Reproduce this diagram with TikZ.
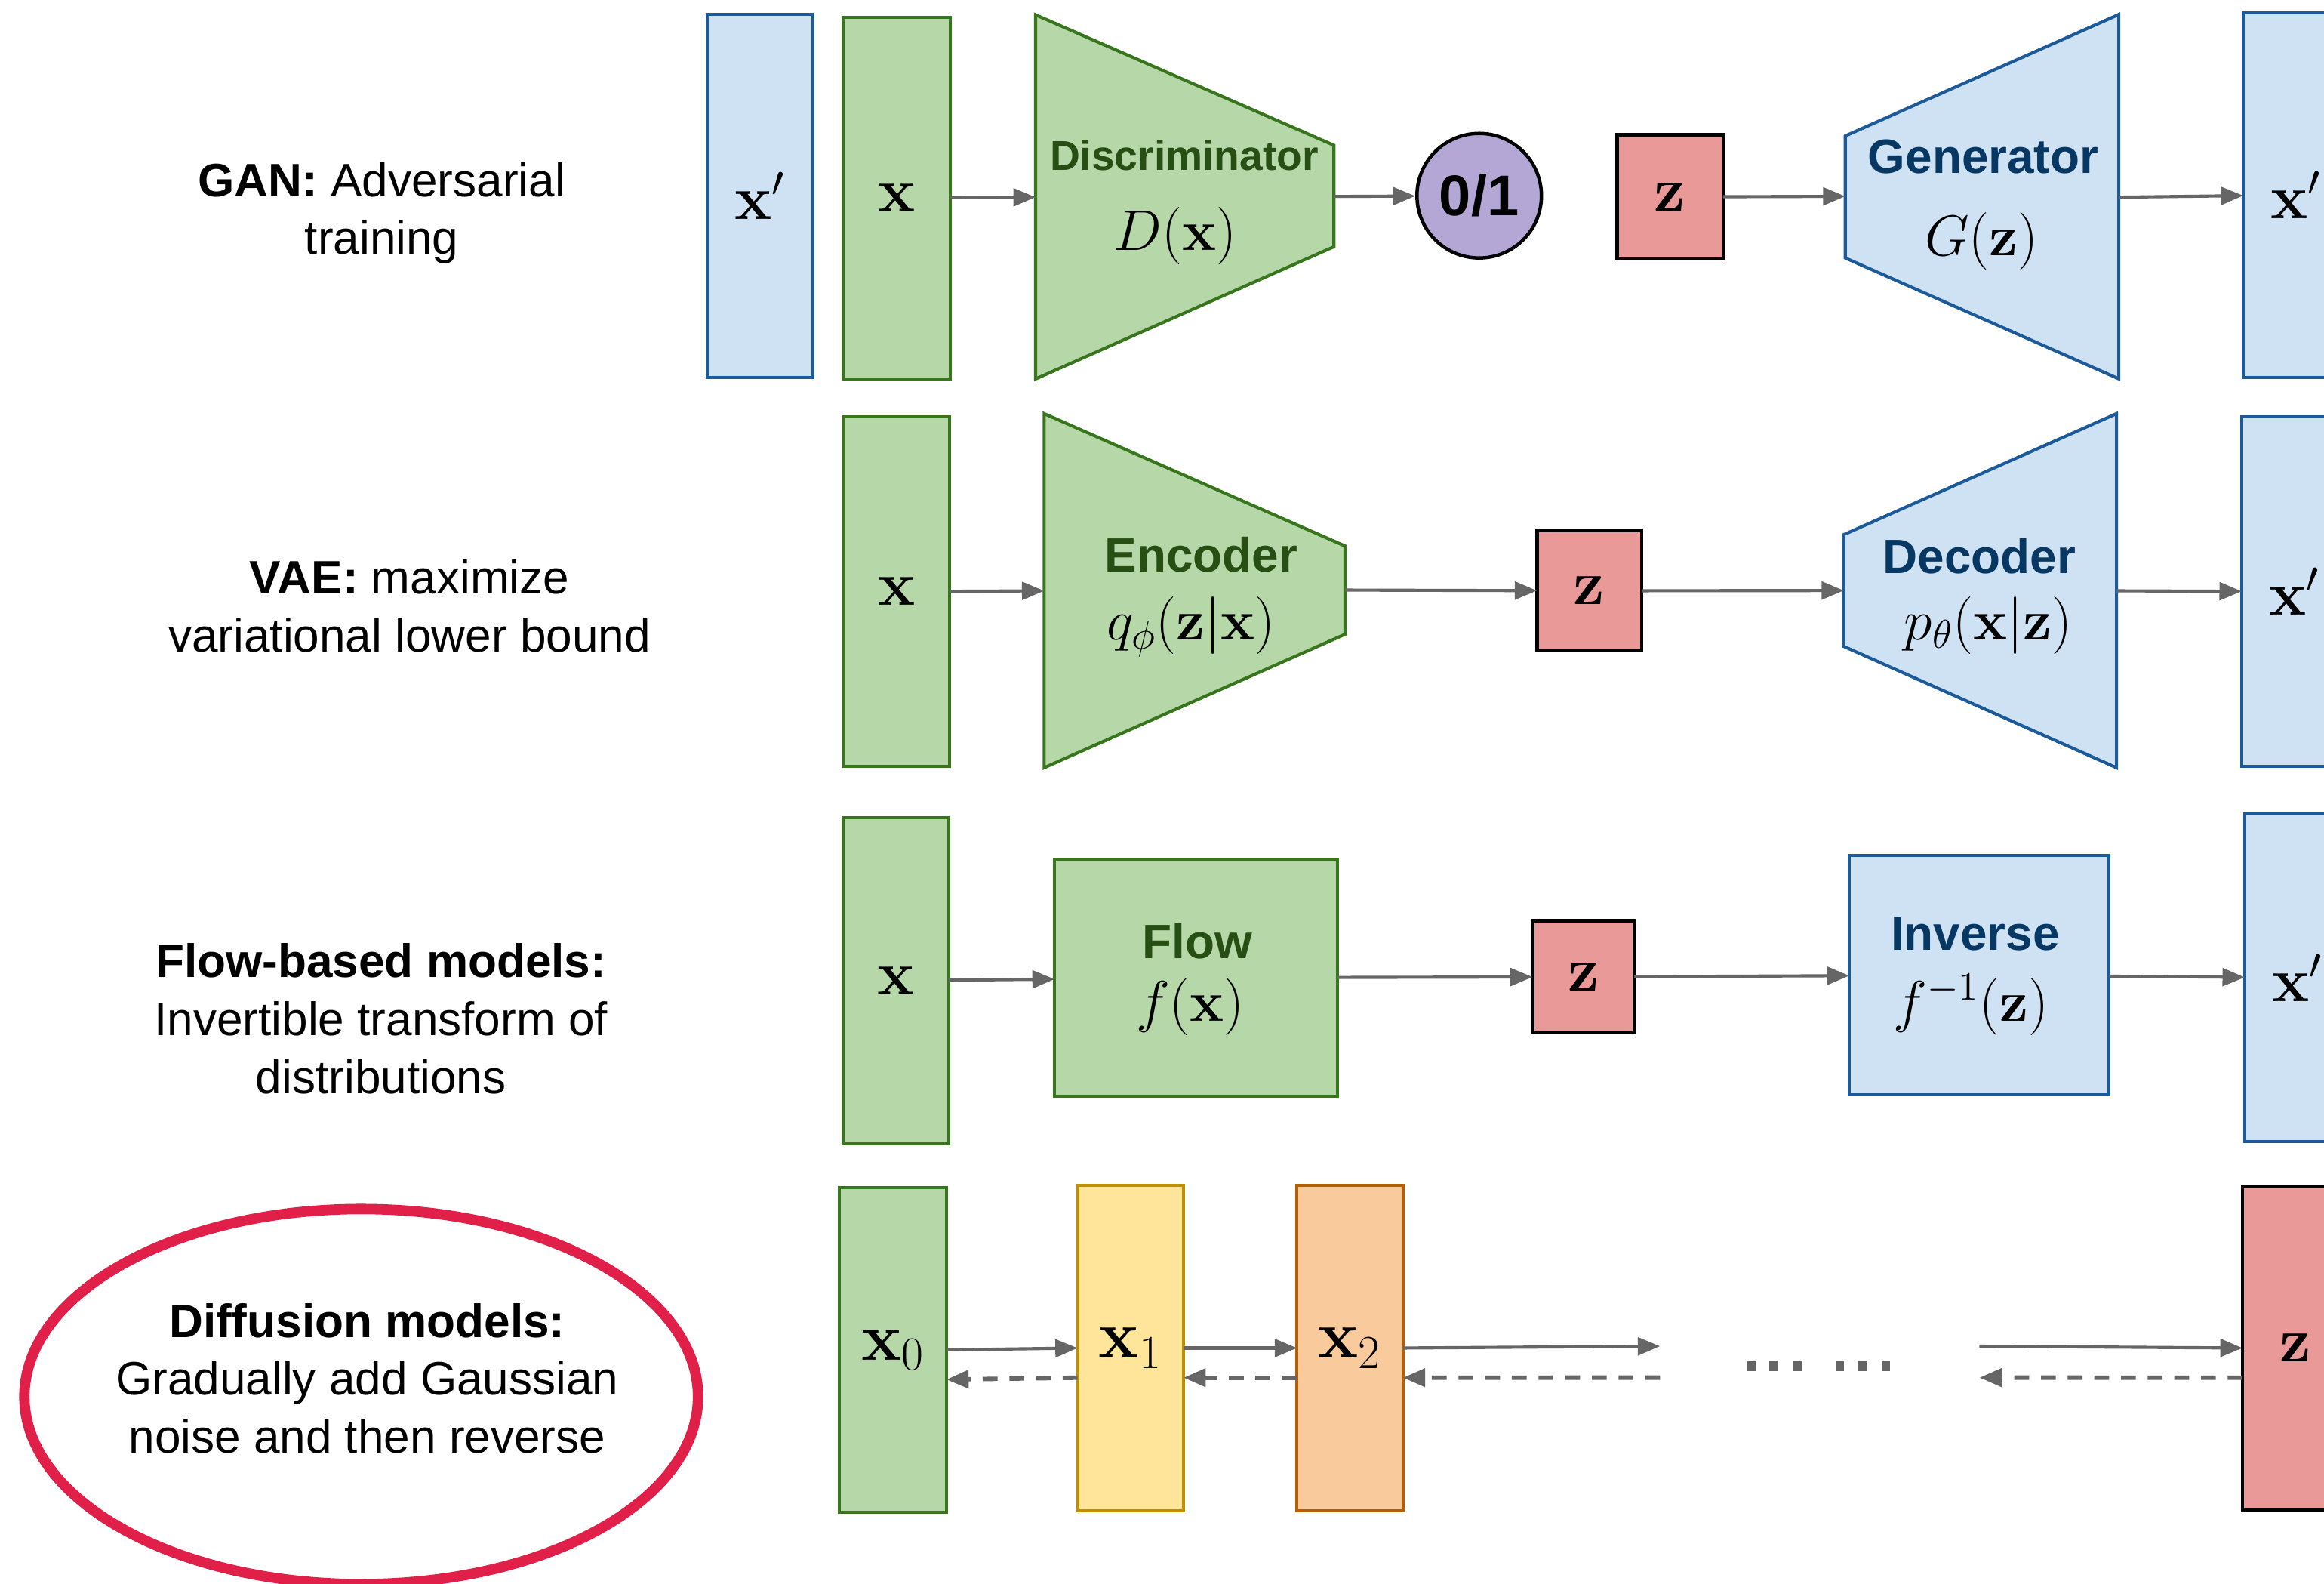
\RequirePackage{fix-cm}
\documentclass[tikz,border=0pt]{standalone}
\usepackage[no-math]{fontspec}
\setmainfont{Liberation Sans}
\usetikzlibrary{arrows.meta,shapes.geometric}

\definecolor{gfill}{HTML}{B6D7A8}
\definecolor{gline}{HTML}{38761D}
\definecolor{gtext}{HTML}{274E13}
\definecolor{bfill}{HTML}{CFE2F3}
\definecolor{bline}{HTML}{1C5A99}
\definecolor{btext}{HTML}{073763}
\definecolor{rfill}{HTML}{EA9999}
\definecolor{pfill}{HTML}{B4A7D6}
\definecolor{yfill}{HTML}{FFE599}
\definecolor{yline}{HTML}{BF9000}
\definecolor{ofill}{HTML}{F9CB9C}
\definecolor{oline}{HTML}{B45F06}
\definecolor{arrgray}{HTML}{666666}
\definecolor{ringred}{HTML}{E02048}

\newcommand{\px}{0.02cm}

\tikzset{
  sz/.style 2 args={minimum width=#1*\px, minimum height=#2*\px},
  blk/.style={inner sep=0pt, outer sep=0pt, line width=1.2pt, font=\fontsize{24}{28}\selectfont},
  gbox/.style={blk, draw=gline, fill=gfill},
  bbox/.style={blk, draw=bline, fill=bfill},
  rbox/.style={blk, draw=black, fill=rfill, line width=1.3pt},
  ybox/.style={blk, draw=yline, fill=yfill},
  obox/.style={blk, draw=oline, fill=ofill},
  bigsub/.style={font=\fontsize{26}{30}\selectfont},
  gshape/.style={draw=gline, fill=gfill, line width=1.2pt},
  bshape/.style={draw=bline, fill=bfill, line width=1.2pt},
  gtitle/.style={anchor=base, inner sep=0pt, text=gtext, font=\fontsize{18.5}{22}\selectfont\bfseries},
  btitle/.style={anchor=base, inner sep=0pt, text=btext, font=\fontsize{18.5}{22}\selectfont\bfseries},
  formula/.style={anchor=base, inner sep=0pt, font=\fontsize{22}{26}\selectfont},
  % multi-line captions: the base anchor sits on the last line
  sidetext/.style={anchor=base, align=center, inner sep=0pt, font=\fontsize{18}{22.2}\selectfont},
  arr/.style={draw=arrgray, line width=1.2pt, -{Triangle[length=0.3cm, width=0.24cm]}},
  darr/.style={arr, line width=1.7pt, dash pattern=on 0.2cm off 0.16cm},
}

\begin{document}
\begin{tikzpicture}[x=\px, y=-\px]
\useasboundingbox (0,0) rectangle (1568,1068);
\fill[white] (0,0) rectangle (1568,1068);
\clip (0,0) rectangle (1568,1068);

% ---------------- GAN ----------------
\node[sidetext] (gantxt) at (257.5,171.5) {\textbf{GAN:} Adversarial\\training};
\node[bbox, sz={71.5}{245}] (ganxp) at (512.75,132.2) {$\mathbf{x}'$};
\node[gbox, sz={72}{244}] (ganx) at (605,133.5) {$\mathbf{x}$};
\draw[gshape] (698.7,10) -- (900,98) -- (900,166.4) -- (698.7,255.6) -- cycle;
\coordinate (discW) at (698.7,133);
\coordinate (discE) at (900,132.5);
\node[gtitle, font=\fontsize{16}{19}\selectfont\bfseries] (disctitle) at (799,114.6) {Discriminator};
\node[formula] (discfn) at (793,168.7) {$D(\mathbf{x})$};
\node[circle, draw=black, fill=pfill, minimum size=84*\px, inner sep=0pt, line width=1.3pt,
      font=\fontsize{22}{26}\selectfont\bfseries] (out) at (998,132) {0/1};
\node[rbox, sz={71.5}{84}] (ganz) at (1126.8,132.8) {$\mathbf{z}$};
\draw[bshape] (1245,91.7) -- (1429.5,9.8) -- (1429.5,255.5) -- (1245,174) -- cycle;
\coordinate (genW) at (1245,132.4);
\coordinate (genE) at (1429.5,133);
\node[btitle] (gentitle) at (1338,117) {Generator};
\node[formula] (genfn) at (1337,172.2) {$G(\mathbf{z})$};
\node[bbox, sz={71.5}{246}] (ganxr) at (1549.25,131.5) {$\mathbf{x}'$};

\draw[arr] (ganx) -- (discW);
\draw[arr] (discE) -- (out);
\draw[arr] (ganz) -- (genW);
\draw[arr] (genE) -- (ganxr);

% ---------------- VAE ----------------
\node[sidetext] (vaetxt) at (276.3,439.6) {\textbf{VAE:} maximize\\variational lower bound};
\node[gbox, sz={71}{236}] (vaex) at (605,399) {$\mathbf{x}$};
\draw[gshape] (704.5,279) -- (907.5,368.3) -- (907.5,427.8) -- (704.5,517.8) -- cycle;
\coordinate (encW) at (704.5,398.5);
\coordinate (encE) at (907.5,398);
\node[gtitle] (enctitle) at (810.5,386) {Encoder};
\node[formula] (encfn) at (803.5,431.7) {$q_\phi(\mathbf{z}|\mathbf{x})$};
\node[rbox, sz={70.6}{81}] (vaez) at (1072.3,398.5) {$\mathbf{z}$};
\draw[bshape] (1244,360.6) -- (1428,279) -- (1428,517.8) -- (1244,436) -- cycle;
\coordinate (decW) at (1244,398.3);
\coordinate (decE) at (1428,398.5);
\node[btitle] (dectitle) at (1335.5,387) {Decoder};
\node[formula] (decfn) at (1341.5,431.5) {$p_\theta(\mathbf{x}|\mathbf{z})$};
\node[bbox, sz={71.5}{236}] (vaexr) at (1548.2,399) {$\mathbf{x}'$};

\draw[arr] (vaex) -- (encW);
\draw[arr] (encE) -- (vaez);
\draw[arr] (vaez) -- (decW);
\draw[arr] (decE) -- (vaexr);

% ---------------- Flow ----------------
\node[sidetext] (flowtxt) at (257,737.4) {\textbf{Flow-based models:}\\Invertible transform of\\distributions};
\node[gbox, sz={71}{220}] (flowx) at (604.5,661.5) {$\mathbf{x}$};
\node[gbox, sz={191}{159.6}] (flow) at (807,659.5) {};
\node[gtitle] (flowtitle) at (808,646.7) {Flow};
\node[formula] (flowfn) at (803,688.7) {$f(\mathbf{x})$};
\node[rbox, sz={68.6}{75.7}] (flowz) at (1068.3,658.9) {$\mathbf{z}$};
\node[bbox, sz={175.3}{161.4}] (inv) at (1335.4,657.7) {};
\node[btitle] (invtitle) at (1332.7,640.7) {Inverse};
\node[formula] (invfn) at (1330,688.7) {$f^{-1}(\mathbf{z})$};
\node[bbox, sz={71.5}{221}] (flowxr) at (1550.25,659.5) {$\mathbf{x}'$};

\draw[arr] (flowx) -- (flow);
\draw[arr] (flow) -- (flowz);
\draw[arr] (flowz) -- (inv);
\draw[arr] (inv) -- (flowxr);

% ---------------- Diffusion ----------------
\node[ellipse, draw=ringred, line width=4pt, inner sep=0pt,
      minimum width=454.5*\px, minimum height=253*\px] (ring) at (243.7,942) {};
\node[sidetext] (difftxt) at (247.7,980) {\textbf{Diffusion models:}\\Gradually add Gaussian\\noise and then reverse};

\node[gbox, bigsub, sz={72}{219}] (x0) at (602.5,910.5) {$\mathbf{x}_0$};
\node[ybox, bigsub, sz={71.5}{219.5}] (x1) at (762.75,909.25) {$\mathbf{x}_1$};
\node[obox, bigsub, sz={71.5}{219.5}] (x2) at (910.8,909.25) {$\mathbf{x}_2$};
\node[rbox, sz={71.5}{218.5}] (dz) at (1548.75,909.25) {$\mathbf{z}$};

\coordinate (fwdend) at (1120,908);
\coordinate (fwdstart) at (1335.5,908);
\coordinate (bwdstart) at (1120,929.2);
\coordinate (bwdend) at (1335.5,929.2);

\draw[arr] (x0.east) -- (x1.west);
\draw[arr] (x1.east) -- (x2.west);
\draw[arr] (x2.east) -- (fwdend);
\draw[arr] (fwdstart) -- (dz.west);

\draw[darr] ([yshift=-0.4cm]x1.west) -- ([yshift=-0.4cm]x0.east);
\draw[darr] ([yshift=-0.4cm]x2.west) -- ([yshift=-0.4cm]x1.east);
\draw[darr] (bwdstart) -- ([yshift=-0.4cm]x2.east);
\draw[darr] ([yshift=-0.4cm]dz.west) -- (bwdend);

% skipped steps
\foreach \a in {1179,1193.8,1210,1238.5,1253.8,1269.6}
  \fill[arrgray] (\a,918) rectangle ++(5.8,7);
\end{tikzpicture}
\end{document}
